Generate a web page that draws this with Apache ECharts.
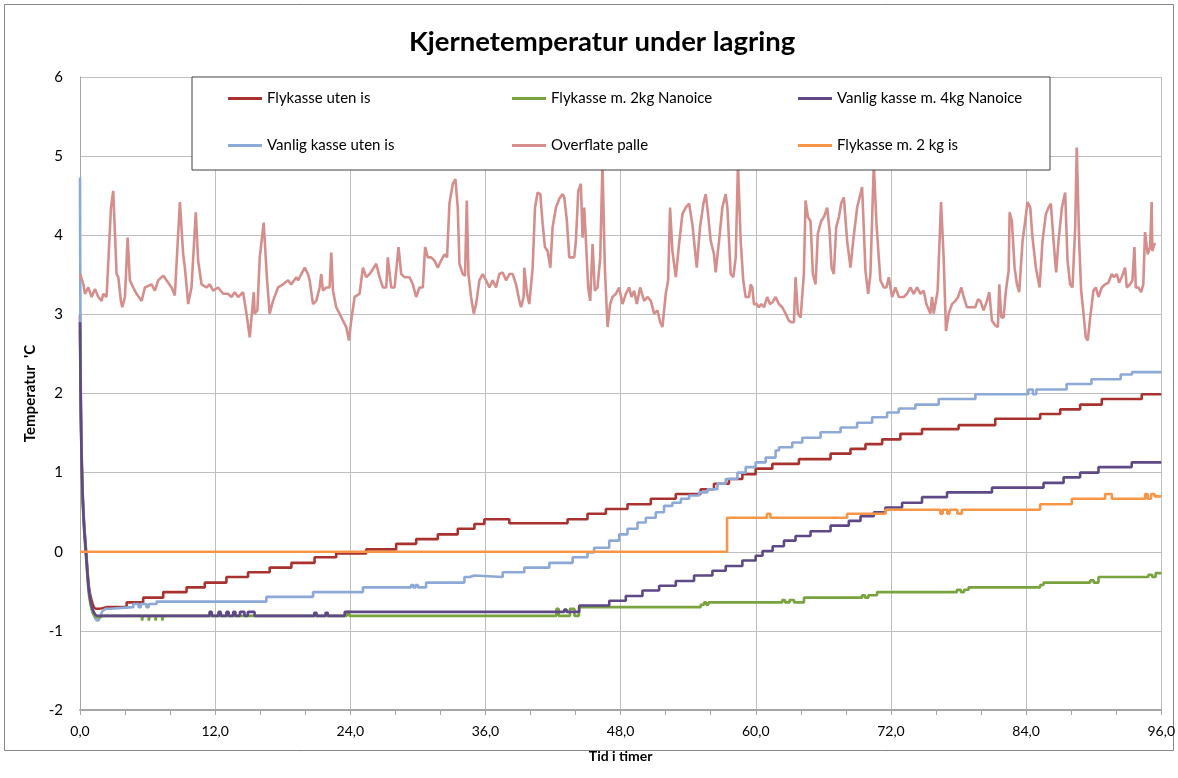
<!DOCTYPE html>
<html>
<head>
<meta charset="utf-8">
<script src="https://cdn.jsdelivr.net/npm/echarts@6/dist/echarts.min.js"></script>
<style>
html,body{margin:0;padding:0;background:#fff;}
#chart{width:1178px;height:778px;}
</style>
</head>
<body>
<div id="chart"></div>
<script>
// ---------- DATA ----------
const chartTitle = 'Kjernetemperatur under lagring';
const xAxisName = 'Tid i timer';
const yAxisName = "Temperatur  'C";
const seriesNames = ['Flykasse uten is','Vanlig kasse uten is','Flykasse m. 2kg Nanoice','Overflate palle','Vanlig kasse m. 4kg Nanoice','Flykasse m. 2 kg is'];

// Initial cool-down (smooth part), [hours, °C]
const coolFlykasseUtenIs = [[0,3.0],[0.05,2.2],[0.1,1.6],[0.2,0.9],[0.35,0.4],[0.55,0.0],[0.8,-0.45],[1.1,-0.65],[1.4,-0.72],[1.7,-0.72],[2.3,-0.70]];
const coolVanligUtenIs = [[0,4.73],[0.03,3.2],[0.06,2.3],[0.1,1.7],[0.18,1.0],[0.3,0.5],[0.53,0.0],[0.8,-0.5],[1.1,-0.75],[1.4,-0.85],[1.6,-0.87],[1.8,-0.82],[2.0,-0.75],[2.3,-0.72]];
const coolFlykasseNanoice = [[0,2.8],[0.05,2.0],[0.1,1.45],[0.2,0.8],[0.35,0.3],[0.55,-0.1],[0.8,-0.55],[1.1,-0.76],[1.4,-0.82],[1.7,-0.83],[2.0,-0.81]];
const coolVanligNanoice = [[0,2.9],[0.05,2.1],[0.1,1.5],[0.2,0.85],[0.35,0.35],[0.55,-0.05],[0.8,-0.5],[1.1,-0.72],[1.4,-0.80],[1.7,-0.81]];

// Logged step values after cool-down
const flykasseUtenIs = [[2.3,-0.70],
 [4.14,-0.64],[5.61,-0.58],[7.39,-0.51],[9.46,-0.45],[11.08,-0.39],[13.0,-0.32],[14.92,-0.26],[16.84,-0.20],[18.77,-0.14],[20.83,-0.07],[22.75,-0.02],
 [25.41,0.03],[28.07,0.10],[29.85,0.16],[31.77,0.22],[33.54,0.29],[35.02,0.35],[35.90,0.41],[38.12,0.36],[43.29,0.41],[45.06,0.48],[46.69,0.54],
 [48.61,0.60],[50.68,0.67],[52.90,0.73],[55.11,0.79],[56.29,0.86],[57.62,0.92],[58.81,0.98],[59.99,1.05],[61.47,1.11],[63.83,1.17],[66.64,1.24],
 [68.41,1.30],[69.74,1.36],[71.22,1.42],[72.84,1.49],[74.76,1.55],[78.01,1.60],[81.26,1.68],[85.25,1.74],[87.03,1.80],[88.80,1.86],[90.72,1.93],
 [94.27,1.99],[96,1.99]];

const vanligUtenIs = [[2.3,-0.72],[2.66,-0.70],[4.73,-0.66],[5.2,-0.70],[5.4,-0.66],[5.9,-0.70],[6.1,-0.66],[6.80,-0.63],[16.55,-0.57],[20.69,-0.51],[25.12,-0.45],
 [29.4,-0.42],[29.6,-0.45],[29.8,-0.42],[30.0,-0.45],[30.73,-0.39],[34.13,-0.32],[34.6,-0.30],[35.0,-0.32],[37.53,-0.26],[39.45,-0.20],[41.67,-0.14],
 [43.74,-0.07],[45.06,-0.01],[45.65,0.05],[46.99,0.14],[47.87,0.22],[48.61,0.29],[49.5,0.37],[50.24,0.43],[51.12,0.50],[51.86,0.58],[52.6,0.62],
 [53.35,0.67],[54.08,0.71],[54.97,0.75],[55.71,0.79],[56.6,0.86],[57.33,0.92],[58.37,1.00],[59.1,1.07],[59.99,1.13],[60.88,1.19],[61.76,1.28],
 [62.06,1.32],[63.24,1.38],[64.13,1.44],[65.75,1.51],[67.53,1.57],[69.0,1.63],[70.33,1.70],[71.66,1.76],[72.70,1.81],[74.17,1.86],[76.24,1.93],
 [79.5,1.99],[84.2,2.05],[84.6,1.99],[84.9,2.05],[87.6,2.12],[89.8,2.18],[92.4,2.24],[93.4,2.27],[96,2.27]];

const flykasseNanoice = [[2.0,-0.81],
 [5.5,-0.87],[5.6,-0.81],[6.1,-0.87],[6.2,-0.81],[6.7,-0.87],[6.8,-0.81],[7.3,-0.87],[7.4,-0.81],[23.7,-0.76],[23.9,-0.81],
 [42.3,-0.72],[42.5,-0.81],[43.5,-0.72],[43.9,-0.81],[44.3,-0.70],[55.11,-0.67],[55.4,-0.64],[55.6,-0.67],[55.8,-0.64],[62.35,-0.61],[62.6,-0.64],
 [63.0,-0.61],[63.4,-0.64],[64.28,-0.58],[69.44,-0.55],[69.7,-0.58],[70.0,-0.55],[70.77,-0.51],[77.86,-0.48],[78.2,-0.51],[78.5,-0.48],[78.9,-0.45],
 [85.25,-0.42],[85.55,-0.39],[89.69,-0.36],[90.0,-0.39],[90.43,-0.32],[94.86,-0.29],[95.2,-0.32],[95.5,-0.27],[96,-0.27]];

const overflatePalle = [[0,3.51],[0.30,3.38],[0.44,3.26],[0.74,3.34],[1.03,3.22],[1.33,3.32],[1.63,3.22],[1.92,3.17],[2.07,3.26],[2.36,3.22],[2.51,3.24],
 [2.75,4.35],[2.95,4.56],[3.25,3.51],[3.40,3.47],[3.63,3.17],[3.75,3.09],[3.99,3.22],[4.23,3.97],[4.43,3.43],[4.73,3.34],[5.02,3.26],[5.47,3.17],
 [5.76,3.34],[6.35,3.38],[6.65,3.30],[6.94,3.43],[7.39,3.49],[7.68,3.43],[8.13,3.34],[8.42,3.24],[8.87,4.42],[9.16,3.76],[9.31,3.59],[9.55,3.22],
 [9.60,3.13],[9.90,3.34],[10.28,4.29],[10.49,3.68],[10.79,3.38],[11.23,3.34],[11.52,3.38],[11.82,3.30],[12.26,3.34],[12.71,3.26],[13.15,3.26],
 [13.45,3.22],[13.74,3.28],[14.04,3.22],[14.48,3.28],[14.78,3.01],[15.07,2.71],[15.22,2.71],[15.43,3.28],[15.51,3.01],[15.75,3.05],[15.96,3.72],
 [16.31,4.16],[16.61,3.43],[16.84,3.01],[17.14,3.17],[17.58,3.34],[18.03,3.38],[18.47,3.43],[18.76,3.38],[19.21,3.47],
 [19.36,3.43],[19.65,3.51],[19.95,3.59],[20.24,3.51],[20.39,3.43],[20.69,3.13],[20.98,3.17],[21.28,3.34],[21.42,3.51],[21.57,3.30],[21.87,3.34],
 [22.16,3.34],[22.31,3.78],[22.46,3.30],[22.75,3.09],[23.05,3.01],[23.35,2.92],[23.64,2.84],[23.88,2.67],[24.08,2.92],[24.38,3.22],[24.82,3.26],
 [25.12,3.59],[25.41,3.47],[25.71,3.51],[26.00,3.57],[26.30,3.64],[26.60,3.47],[26.89,3.34],[27.19,3.34],[27.33,3.72],[27.63,3.34],[27.93,3.34],
 [28.28,3.85],[28.52,3.51],[28.81,3.47],[29.26,3.47],[29.55,3.38],[29.85,3.22],[30.14,3.34],[30.44,3.34],[30.64,3.85],[30.88,3.72],[31.18,3.72],
 [31.47,3.68],[31.77,3.59],[32.06,3.68],[32.36,3.76],[32.59,3.72],[32.80,4.40],[33.10,4.65],[33.33,4.71],[33.54,4.35],[33.69,3.64],[33.98,3.51],
 [34.19,3.49],[34.34,4.44],[34.49,3.51],[34.72,3.22],[34.96,3.01],[35.17,3.13],[35.46,3.43],[35.76,3.51],[36.05,3.43],[36.35,3.34],[36.64,3.43],
 [36.94,3.34],[37.23,3.51],[37.53,3.53],[37.83,3.43],[38.12,3.51],[38.42,3.51],[38.71,3.38],[39.01,3.17],
 [39.16,3.09],[39.39,3.22],[39.45,3.59],[39.69,3.26],[39.89,3.13],[40.19,3.59],[40.40,4.35],[40.63,4.54],[40.87,4.52],[41.08,4.14],[41.28,3.85],
 [41.52,3.80],[41.76,3.59],[41.96,4.10],[42.26,4.35],[42.55,4.46],[42.85,4.52],[43.00,4.48],[43.23,4.18],[43.44,3.72],[43.88,3.72],[44.03,3.93],
 [44.24,4.56],[44.47,4.65],[44.62,3.97],[44.77,4.35],[44.92,3.93],[45.12,3.34],[45.30,3.17],[45.51,3.89],[45.71,3.30],[45.95,3.34],[46.19,3.72],
 [46.39,4.90],[46.60,3.59],[46.84,2.84],[47.07,3.13],[47.28,3.22],[47.58,3.26],[47.87,3.34],[48.17,3.13],[48.46,3.26],[48.76,3.34],[48.97,3.22],
 [49.20,3.30],[49.44,3.13],[49.73,3.34],[50.09,3.17],[50.38,3.22],[50.68,3.17],[50.98,3.01],[51.27,3.05],[51.51,2.90],[51.71,2.84],[52.01,3.26],
 [52.22,3.43],[52.39,4.35],[52.60,3.80],[52.90,3.47],[53.19,3.89],[53.49,4.27],[53.78,4.35],[54.08,4.40],[54.37,4.14],[54.76,3.59],[55.05,4.10],
 [55.35,4.40],[55.56,4.52],[55.76,4.27],[56.00,3.93],[56.29,3.76],[56.44,3.53],[56.74,3.93],[57.03,4.35],[57.33,4.52],[57.48,4.35],[57.77,3.51],
 [58.01,3.47],[58.22,3.72],[58.42,4.90],
 [58.66,3.93],[58.89,3.43],[59.10,3.22],[59.40,3.22],[59.55,3.38],[59.69,3.34],[59.84,3.13],[60.08,3.13],[60.28,3.09],[60.49,3.13],[60.73,3.09],
 [61.02,3.22],[61.26,3.13],[61.47,3.15],[61.76,3.22],[62.06,3.13],[62.35,3.09],[62.65,3.01],[62.94,2.92],[63.15,2.90],[63.39,2.90],[63.53,3.47],
 [63.74,3.01],[63.98,2.96],[64.27,3.51],[64.42,4.44],[64.63,4.23],[64.86,4.18],[65.07,3.51],[65.31,3.38],[65.51,4.02],[65.81,4.18],[66.05,4.23],
 [66.34,4.35],[66.55,4.06],[66.73,3.59],[66.93,3.51],[67.14,4.10],[67.38,4.23],[67.58,4.40],[67.82,4.48],[68.11,3.93],[68.41,3.59],[68.65,3.93],
 [69.00,4.35],[69.44,4.61],[69.74,3.55],[69.98,3.26],[70.18,3.51],[70.48,4.90],[70.72,4.14],[70.92,3.72],[71.07,3.43],[71.37,3.34],[71.60,3.34],
 [71.81,3.47],[72.10,3.22],[72.40,3.34],[72.70,3.22],[73.14,3.22],[73.43,3.26],[73.73,3.34],[74.02,3.26],[74.32,3.34],[74.62,3.26],[74.91,3.30],
 [75.15,3.13],[75.50,3.01],[75.65,3.22],[75.80,3.01],[75.95,3.01],[76.15,3.30],[76.45,4.42],[76.68,3.72],[76.89,2.79],[77.13,3.01],
 [77.42,3.13],[77.72,3.17],[77.96,3.22],[78.25,3.34],[78.46,3.22],[78.75,3.09],[79.20,3.09],[79.49,3.09],[79.73,3.19],[79.94,3.17],[80.23,3.05],
 [80.53,3.17],[80.73,3.28],[80.97,2.92],[81.27,2.86],[81.50,2.84],[81.62,3.38],[81.80,2.96],[82.00,2.96],[82.21,3.30],[82.45,3.55],[82.54,4.29],
 [82.74,4.18],[82.98,3.59],[83.19,3.38],[83.39,3.28],[83.69,3.93],[83.92,4.18],[84.13,4.42],[84.37,4.35],[84.57,3.97],[84.87,3.59],[85.20,3.34],
 [85.46,3.93],[85.76,4.27],[85.99,4.35],[86.20,4.40],[86.44,3.93],[86.67,3.53],[86.88,3.93],[87.18,4.35],[87.47,4.54],[87.68,3.68],[87.91,3.38],
 [88.12,3.34],[88.36,4.10],[88.50,5.11],[88.71,3.93],[88.89,3.30],[89.10,3.01],[89.30,2.71],[89.48,2.67],[89.69,2.96],[89.98,3.30],[90.19,3.34],
 [90.43,3.22],[90.72,3.34],[91.02,3.38],[91.31,3.40],[91.61,3.51],[91.81,3.47],[92.05,3.51],[92.26,3.40],[92.49,3.47],[92.79,3.59],[92.94,3.34],
 [93.23,3.38],[93.44,3.43],[93.62,3.85],[93.74,3.34],[93.97,3.34],[94.21,3.28],[94.41,3.38],[94.56,4.04],[94.80,3.76],[95.01,3.85],[95.15,4.42],
 [95.21,3.80],[95.39,3.89],[95.51,3.89]];

const vanligNanoice = [[1.7,-0.81],
 [11.5,-0.76],[11.7,-0.81],[12.3,-0.76],[12.5,-0.81],[13.0,-0.76],[13.2,-0.81],[13.6,-0.76],[13.8,-0.81],[14.2,-0.76],[14.6,-0.81],[14.9,-0.76],
 [15.5,-0.81],[20.8,-0.77],[21.0,-0.81],[21.8,-0.77],[22.0,-0.81],[23.5,-0.76],[43.0,-0.73],[43.2,-0.76],[44.33,-0.68],[46.99,-0.62],[48.46,-0.56],
 [49.94,-0.49],[51.42,-0.43],[52.90,-0.37],[54.52,-0.30],[56.15,-0.24],[57.33,-0.18],[58.81,-0.11],[59.99,-0.05],[60.6,0.01],[61.5,0.07],
 [62.5,0.14],[63.53,0.20],[64.86,0.26],[66.64,0.33],[68.26,0.39],[69.3,0.45],[70.48,0.50],[71.51,0.56],[72.99,0.62],[74.76,0.69],[76.98,0.75],
 [80.97,0.81],[85.55,0.87],[87.33,0.94],[88.80,1.00],[90.43,1.07],[93.38,1.13],[96,1.13]];

const flykasseIs = [[0,0],[57.45,0.43],[61.0,0.48],[61.3,0.43],[68.11,0.48],[71.51,0.53],[76.39,0.48],[76.6,0.53],[77.0,0.48],[77.2,0.53],
 [77.9,0.48],[78.3,0.53],[85.25,0.60],[88.06,0.67],[91.02,0.73],[91.61,0.67],[94.57,0.73],[94.8,0.67],[95.1,0.73],[95.4,0.70],[96,0.70]];

const xTicks = {min: 0, max: 96, interval: 12};
const yTicks = {min: -2, max: 6, interval: 1};

// ---------- CHART ----------
const colors = {
  'Flykasse uten is': '#A8322F',
  'Vanlig kasse uten is': '#8DA9D8',
  'Flykasse m. 2kg Nanoice': '#79A33E',
  'Overflate palle': '#D48F8D',
  'Vanlig kasse m. 4kg Nanoice': '#5E4886',
  'Flykasse m. 2 kg is': '#F79646'
};
const stepData = {
  'Flykasse uten is': flykasseUtenIs,
  'Vanlig kasse uten is': vanligUtenIs,
  'Flykasse m. 2kg Nanoice': flykasseNanoice,
  'Overflate palle': overflatePalle,
  'Vanlig kasse m. 4kg Nanoice': vanligNanoice,
  'Flykasse m. 2 kg is': flykasseIs
};
const coolData = {
  'Flykasse uten is': coolFlykasseUtenIs,
  'Vanlig kasse uten is': coolVanligUtenIs,
  'Flykasse m. 2kg Nanoice': coolFlykasseNanoice,
  'Vanlig kasse m. 4kg Nanoice': coolVanligNanoice
};
const FONT = 'Lato, "Open Sans", sans-serif';

const legendLayout = [
  ['Flykasse uten is', 228, 91], ['Flykasse m. 2kg Nanoice', 512, 91], ['Vanlig kasse m. 4kg Nanoice', 798, 91],
  ['Vanlig kasse uten is', 228, 138], ['Overflate palle', 512, 138], ['Flykasse m. 2 kg is', 798, 138]
];

const series = [];
seriesNames.forEach(name => {
  series.push({
    name, type: 'line', data: stepData[name],
    showSymbol: false, symbol: 'none',
    step: name === 'Overflate palle' ? false : 'end',
    color: colors[name],
    lineStyle: {color: colors[name], width: 2.6},
    z: 2
  });
  if (coolData[name]) {
    series.push({
      name, type: 'line', data: coolData[name],
      showSymbol: false, symbol: 'none', smooth: 0.3,
      color: colors[name],
      lineStyle: {color: colors[name], width: 2.6},
      z: 2
    });
  }
});

const chart = echarts.init(document.getElementById('chart'), null, {renderer: 'canvas'});
chart.setOption({
  animation: false,
  backgroundColor: '#fff',
  title: {
    text: chartTitle, left: 404, top: 23,
    textStyle: {fontFamily: FONT, fontSize: 27.5, fontWeight: 'bold', color: '#000'}
  },
  grid: {left: 80, right: 15, top: 77, bottom: 68, containLabel: false},
  xAxis: {
    type: 'value', min: xTicks.min, max: xTicks.max, interval: xTicks.interval,
    name: xAxisName, nameLocation: 'middle', nameGap: 39,
    nameTextStyle: {fontFamily: FONT, fontSize: 14, fontWeight: 'bold', color: '#000'},
    axisLine: {show: true, onZero: false, lineStyle: {color: '#A6A6A6', width: 2}},
    axisTick: {show: true, length: 5, lineStyle: {color: '#A6A6A6'}},
    minorTick: {show: true, splitNumber: 3, length: 5, lineStyle: {color: '#A6A6A6'}},
    axisLabel: {margin: 14, fontFamily: '"Liberation Sans Narrow", ' + FONT, fontSize: 14, color: '#000',
      formatter: v => v.toFixed(1).replace('.', ',')},
    splitLine: {show: true, lineStyle: {color: '#BFBFBF', width: 1}}
  },
  yAxis: {
    type: 'value', min: yTicks.min, max: yTicks.max, interval: yTicks.interval,
    name: yAxisName, nameLocation: 'middle', nameGap: 38, nameRotate: 90,
    nameTextStyle: {fontFamily: FONT, fontSize: 15, fontWeight: 'bold', color: '#000'},
    axisLine: {show: true, lineStyle: {color: '#A6A6A6', width: 1}},
    axisTick: {show: false},
    axisLabel: {margin: 17, fontFamily: FONT, fontSize: 15, color: '#000'},
    splitLine: {show: true, lineStyle: {color: '#BFBFBF', width: 1}}
  },
  legend: legendLayout.map(([name, x, y]) => ({
    data: [name], left: x, top: y, padding: 0, z: 10,
    icon: 'rect', itemWidth: 34, itemHeight: 3,
    textStyle: {fontFamily: FONT, fontSize: 15, color: '#000'}
  })),
  graphic: [
    {type: 'rect', z: 9, shape: {x: 192, y: 77, width: 858, height: 93},
     style: {fill: '#fff', stroke: '#404040', lineWidth: 1}},
    {type: 'rect', z: -1, silent: true, shape: {x: 4.5, y: 4.5, width: 1169, height: 746},
     style: {fill: 'none', stroke: '#878787', lineWidth: 1}}
  ],
  series
});
</script>
</body>
</html>
